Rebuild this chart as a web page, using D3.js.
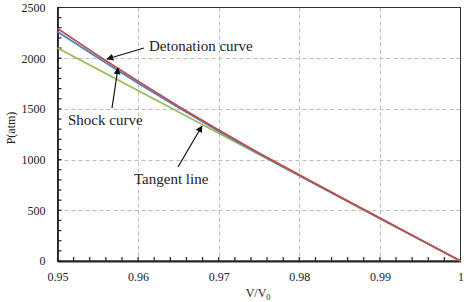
<!DOCTYPE html>
<html>
<head>
<meta charset="utf-8">
<script src="https://cdn.jsdelivr.net/npm/d3@7"></script>
<style>
  body { margin: 0; background: #fff; }
  svg text { font-family: "Liberation Serif", "Times New Roman", "DejaVu Serif", serif !important; fill: #222; }
</style>
</head>
<body>
<div id="chart"></div>
<script>
// data
const volumes = [0.95, 0.955, 0.96, 0.965, 0.97, 0.975, 0.98, 0.985, 0.99, 0.995, 1.0];
const detonation = [2292, 2027, 1772, 1527, 1292, 1066, 849, 635, 423, 212, 0];
const shock = [2262, 2004, 1754, 1514, 1281, 1058, 844, 631, 420, 210, 0];
const tangentV = [0.95, 1.0];
const tangent = [2100, 0];

const xTicks = [0.95, 0.96, 0.97, 0.98, 0.99, 1];
const yTicks = [0, 500, 1000, 1500, 2000, 2500];

const width = 471, height = 302;
const margin = { left: 57.5, right: 10.5, top: 7.5, bottom: 41 };

const svg = d3.select("#chart").append("svg")
  .attr("width", width)
  .attr("height", height);

const x = d3.scaleLinear().domain([0.95, 1]).range([margin.left, width - margin.right]);
const y = d3.scaleLinear().domain([0, 2500]).range([height - margin.bottom, margin.top]);

// grid
const grid = svg.append("g").attr("stroke", "#bdbdbd").attr("stroke-dasharray", "4,3").attr("stroke-width", 1);
grid.selectAll("line.v").data(xTicks.slice(1, -1)).join("line")
  .attr("x1", d => Math.round(x(d)) + 0.5).attr("x2", d => Math.round(x(d)) + 0.5)
  .attr("y1", y(2500)).attr("y2", y(0));
grid.selectAll("line.h").data(yTicks.slice(1, -1)).join("line")
  .attr("y1", d => Math.round(y(d)) + 0.5).attr("y2", d => Math.round(y(d)) + 0.5)
  .attr("x1", x(0.95)).attr("x2", x(1));

// top/right frame
svg.append("rect")
  .attr("x", x(0.95)).attr("y", y(2500))
  .attr("width", x(1) - x(0.95)).attr("height", y(0) - y(2500))
  .attr("fill", "none").attr("stroke", "#333").attr("stroke-width", 1);

// axes
const xAxis = d3.axisBottom(x).tickValues(xTicks).tickFormat(d => d === 1 ? "1" : d3.format(".2f")(d)).tickSize(0).tickPadding(11);
const yAxis = d3.axisLeft(y).tickValues(yTicks).tickFormat(d3.format("d")).tickSize(0).tickPadding(12);

const gx = svg.append("g").attr("transform", `translate(0,${y(0)})`).call(xAxis);
const gy = svg.append("g").attr("transform", `translate(${x(0.95)},0)`).call(yAxis);
[gx, gy].forEach(g => {
  g.select(".domain").attr("stroke", "#222").attr("stroke-width", 1.8);
  g.selectAll("text").attr("font-size", 12).attr("fill", "#222");
});

// inward ticks (major + minor)
const xMinor = d3.range(0.95, 1.0001, 0.002);
const yMinor = d3.range(0, 2501, 100);
svg.append("g").selectAll("line").data(xMinor).join("line")
  .attr("x1", d => x(d)).attr("x2", d => x(d))
  .attr("y1", y(0)).attr("y2", y(0) - 4)
  .attr("stroke", "#222").attr("stroke-width", 1.2);
svg.append("g").selectAll("line").data(yMinor).join("line")
  .attr("y1", d => y(d)).attr("y2", d => y(d))
  .attr("x1", x(0.95)).attr("x2", x(0.95) + 4)
  .attr("stroke", "#222").attr("stroke-width", 1.2);

// axis titles
svg.append("text")
  .attr("transform", `translate(15,128) rotate(-90)`)
  .attr("text-anchor", "middle").attr("font-size", 12)
  .text("P(atm)");

const xt = svg.append("text")
  .attr("x", 258).attr("y", 297)
  .attr("text-anchor", "middle").attr("font-size", 12);
xt.append("tspan").text("V/V");
xt.append("tspan").attr("font-size", 8).attr("dy", 3).text("0");

// curves
const line = d3.line().x(d => x(d[0])).y(d => y(d[1]));
const series = [
  { vals: d3.zip(tangentV, tangent), color: "#9bbb59" },
  { vals: d3.zip(volumes, shock), color: "#4f81bd" },
  { vals: d3.zip(volumes, detonation), color: "#c0504d" }
];
svg.append("g").selectAll("path").data(series).join("path")
  .attr("d", d => line(d.vals))
  .attr("fill", "none")
  .attr("stroke", d => d.color)
  .attr("stroke-width", 1.8);

// annotations
svg.append("defs").append("marker")
  .attr("id", "arr").attr("viewBox", "0 0 10 10")
  .attr("refX", 9).attr("refY", 5)
  .attr("markerWidth", 7).attr("markerHeight", 7)
  .attr("markerUnits", "userSpaceOnUse")
  .attr("orient", "auto")
  .append("path").attr("d", "M0,0L10,5L0,10z").attr("fill", "#111");

const notes = [
  { text: "Detonation curve", tx: 149, ty: 51, x1: 144, y1: 48, x2: 107, y2: 59 },
  { text: "Shock curve", tx: 68, ty: 125, x1: 112, y1: 108, x2: 118, y2: 68 },
  { text: "Tangent line", tx: 134, ty: 184, x1: 178, y1: 167, x2: 202, y2: 126 }
];
notes.forEach(n => {
  svg.append("line")
    .attr("x1", n.x1).attr("y1", n.y1).attr("x2", n.x2).attr("y2", n.y2)
    .attr("stroke", "#111").attr("stroke-width", 1.2)
    .attr("marker-end", "url(#arr)");
  svg.append("text").attr("x", n.tx).attr("y", n.ty).attr("font-size", 15).text(n.text);
});
</script>
</body>
</html>
